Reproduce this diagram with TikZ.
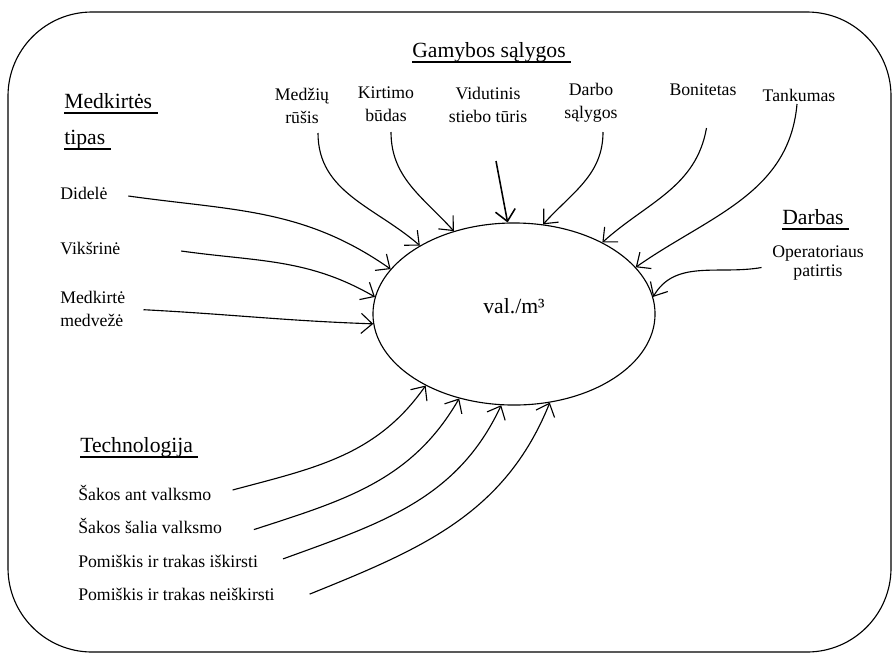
\documentclass[tikz,border=0pt]{standalone}
\usepackage{fontspec}
\setmainfont{Liberation Serif}
\usetikzlibrary{positioning, arrows.meta, shapes.geometric}

\newcommand{\uhead}[1]{\sbox0{#1\ }\rlap{\rule[-4.4pt]{\wd0}{1.8pt}}\usebox0}

\begin{document}
\begin{tikzpicture}[
        x=0.025cm, y=-0.025cm,
        node distance=11.5pt,
        factor/.style={font=\fontsize{12.6}{16.4}\selectfont, align=center, inner sep=0pt},
        kind/.style={font=\fontsize{12.6}{16.4}\selectfont, align=left, inner sep=0pt, anchor=west},
        item/.style={font=\fontsize{12.6}{16.4}\selectfont, inner sep=0pt, text height=9pt, text depth=3pt},
        group/.style={font=\fontsize{15.4}{18}\selectfont, inner sep=0pt, anchor=base west},
        outcome/.style={ellipse, draw, line width=0.8pt, minimum width=7.05cm, minimum height=4.55cm, font=\fontsize{15.4}{18}\selectfont, text depth=12pt},
        arrow/.style={line width=0.8pt, -{Straight Barb[length=0.28cm, width=0.5cm]}}
    ]
    \useasboundingbox (0,0) rectangle (892,653);
    \draw[line width=0.8pt, rounded corners=2.1cm] (8,12) rectangle (891,652);

    \node[outcome] (val) at (514,314) {val./m³};

    \node[group] (gamyba) at (412,57) {\uhead{Gamybos sąlygos}};
    \node[group] (medk) at (64,108) {\uhead{Medkirtės}};
    \node[group] (tipas) at (64,144) {\uhead{tipas}};
    \node[group] (darbas) at (782,224) {\uhead{Darbas}};
    \node[group] (tech) at (80,452) {\uhead{Technologija}};

    \node[factor] (ruesis) at (302,106) {Medžių\\rūšis};
    \node[factor] (budas) at (386,104) {Kirtimo\\būdas};
    \node[factor] (turis) at (488,105) {Vidutinis\\stiebo tūris};
    \node[factor] (salygos) at (591,103) {Darbo\\sąlygos};
    \node[factor] (bonit) at (703,90) {Bonitetas};
    \node[factor] (tank) at (799,95) {Tankumas};
    \node[factor] (patirtis) at (818,263) {Operatoriaus\\[-2.2pt]patirtis};

    \node[kind] (didele) at (60,193) {Didelė};
    \node[kind] (viksrine) at (60,248) {Vikšrinė};
    \node[kind] (medveze) at (60,309) {Medkirtė\\medvežė};

    \node[item, anchor=base west] (sakosant) at (78,500) {Šakos ant valksmo};
    \node[item, below=of sakosant.south west, anchor=north west] (sakossalia) {Šakos šalia valksmo};
    \node[item, below=of sakossalia.south west, anchor=north west] (pomiskis) {Pomiškis ir trakas iškirsti};
    \node[item, below=of pomiskis.south west, anchor=north west] (nepomiskis) {Pomiškis ir trakas neiškirsti};

    \draw[arrow] ([shift={(16,27)}]ruesis.center) to[out=-90, in=139] (val.144);
    \draw[arrow] ([shift={(5,28)}]budas.center) to[out=-90, in=132] (val.126);
    \draw[arrow, line width=1.1pt] ([shift={(8,56)}]turis.center) -- (val.94);
    \draw[arrow] ([shift={(12,29)}]salygos.center) to[out=-90, in=48] (val.72);
    \draw[arrow] ([shift={(3.5,38)}]bonit.center) to[out=-100, in=42] (val.39);
    \draw[arrow] ([shift={(-2,9)}]tank.center) to[out=-95, in=35] (val.21);
    \draw[arrow] ([shift={(-56.5,4.5)}]patirtis.center) to[out=190, in=60] (val.7);
    \draw[arrow] ([shift={(20.5,3)}]didele.east) to[out=-8, in=145] (val.160);
    \draw[arrow] ([shift={(60.7,3)}]viksrine.east) to[out=-8, in=150] (val.173);
    \draw[arrow] ([shift={(18,0.7)}]medveze.east) to[out=-3, in=178] (val.184);
    \draw[arrow] ([shift={(21.2,-5.8)}]sakosant.east) to[out=15, in=235] (val.219);
    \draw[arrow] ([shift={(31.6,0.2)}]sakossalia.east) to[out=18, in=240] (val.237);
    \draw[arrow] ([shift={(24.8,-4.1)}]pomiskis.east) to[out=20, in=245] (val.262);
    \draw[arrow] ([shift={(34.7,-2.5)}]nepomiskis.east) to[out=22, in=248] (val.292);
\end{tikzpicture}
\end{document}
